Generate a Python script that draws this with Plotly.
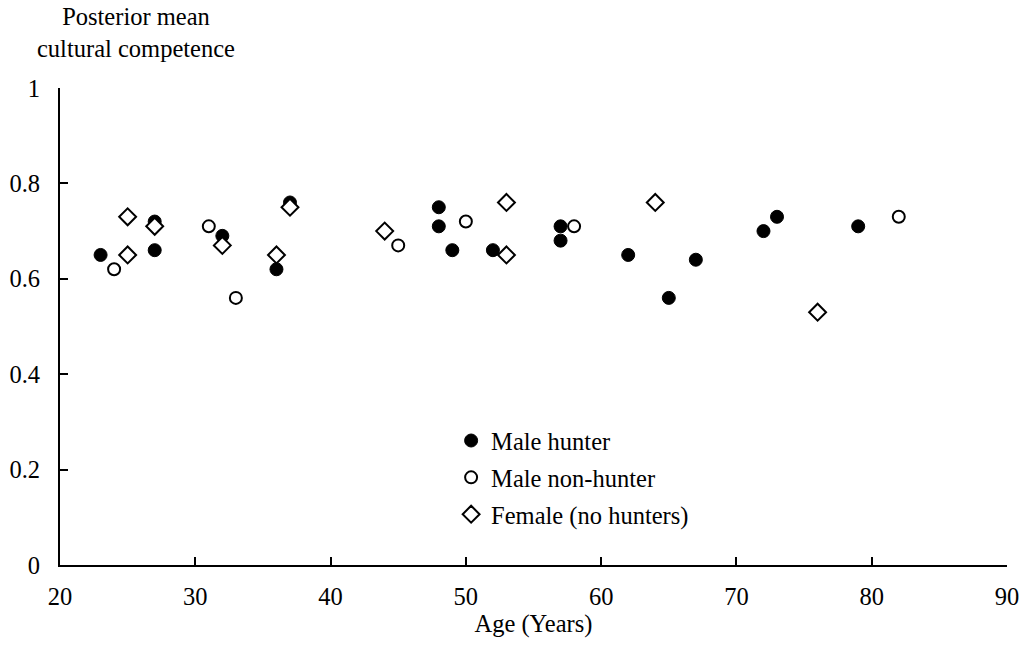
import plotly.graph_objects as go

hunter_age = [23, 27, 27, 32, 36, 37, 48, 48, 49, 52, 57, 57, 62, 65, 67, 72, 73, 79]
hunter_comp = [0.65, 0.72, 0.66, 0.69, 0.62, 0.76, 0.75, 0.71, 0.66, 0.66, 0.71, 0.68, 0.65, 0.56, 0.64, 0.70, 0.73, 0.71]

nonhunter_age = [24, 31, 33, 45, 50, 58, 82]
nonhunter_comp = [0.62, 0.71, 0.56, 0.67, 0.72, 0.71, 0.73]

female_age = [25, 25, 27, 32, 36, 37, 44, 53, 53, 64, 76]
female_comp = [0.73, 0.65, 0.71, 0.67, 0.65, 0.75, 0.70, 0.76, 0.65, 0.76, 0.53]

x_ticks = [20, 30, 40, 50, 60, 70, 80, 90]
y_ticks = [0, 0.2, 0.4, 0.6, 0.8, 1]
y_tick_text = ["0", "0.2", "0.4", "0.6", "0.8", "1"]

FONT = "Liberation Serif"
FS = 24.5
TXT = dict(family=FONT, size=FS, color="black")
CLEAR = "rgba(0,0,0,0)"

fig = go.Figure()
fig.add_trace(go.Scatter(
    x=hunter_age, y=hunter_comp, mode="markers", name="Male hunter", legendgroup="a",
    marker=dict(symbol="circle", size=13, color="black", line=dict(color="black", width=1))))
fig.add_trace(go.Scatter(
    x=nonhunter_age, y=nonhunter_comp, mode="markers", name="Male non-hunter", legendgroup="b",
    marker=dict(symbol="circle", size=12, color="white", line=dict(color="black", width=2))))
fig.add_trace(go.Scatter(
    x=female_age, y=female_comp, mode="markers", name="Female (no hunters)", legendgroup="c",
    marker=dict(symbol="diamond", size=13, color="white", line=dict(color="black", width=2))))
# empty trace so the label-carrying overlay axes are rendered
fig.add_trace(go.Scatter(x=[], y=[], xaxis="x2", yaxis="y2", mode="markers",
                         showlegend=False, hoverinfo="skip"))

fig.update_layout(
    width=1031, height=646,
    margin=dict(l=60, r=24, t=88, b=81, autoexpand=False),
    paper_bgcolor="white", plot_bgcolor="white",
    font=TXT,
    showlegend=True,
    legend=dict(x=0.413, y=0.308, xanchor="left", yanchor="top",
                bgcolor=CLEAR, traceorder="grouped", tracegroupgap=2,
                font=TXT),
    # axes carrying line + inside ticks
    xaxis=dict(range=[20, 90], tickvals=x_ticks, ticks="inside", ticklen=8, tickwidth=2,
               tickcolor="black", showline=True, linecolor="black", linewidth=2,
               showgrid=False, zeroline=False, showticklabels=False, automargin=False),
    yaxis=dict(range=[0, 1], tickvals=y_ticks, ticks="inside", ticklen=8,
               tickwidth=2, tickcolor="black", showline=True, linecolor="black", linewidth=2,
               showgrid=False, zeroline=False, showticklabels=False, automargin=False),
    # overlay axes carrying the labels (transparent outside ticks set the label gap)
    xaxis2=dict(overlaying="x", anchor="y2", side="bottom", range=[20, 90], tickvals=x_ticks,
                ticks="outside", ticklen=10, tickcolor=CLEAR, showline=False, showgrid=False,
                zeroline=False, tickfont=TXT, automargin=False,
                title=dict(text="Age (Years)", standoff=3, font=TXT)),
    yaxis2=dict(overlaying="y", anchor="x2", side="left", range=[0, 1], tickvals=y_ticks,
                ticktext=y_tick_text, ticks="outside", ticklen=14, tickcolor=CLEAR,
                showline=False, showgrid=False, zeroline=False,
                tickfont=TXT, automargin=False),
    annotations=[dict(text="Posterior mean<br>cultural competence", xref="paper", yref="paper",
                      x=0.0803, y=1.182, xanchor="center", yanchor="top", showarrow=False,
                      align="center", font=TXT)],
)

fig.write_html("out.html")
